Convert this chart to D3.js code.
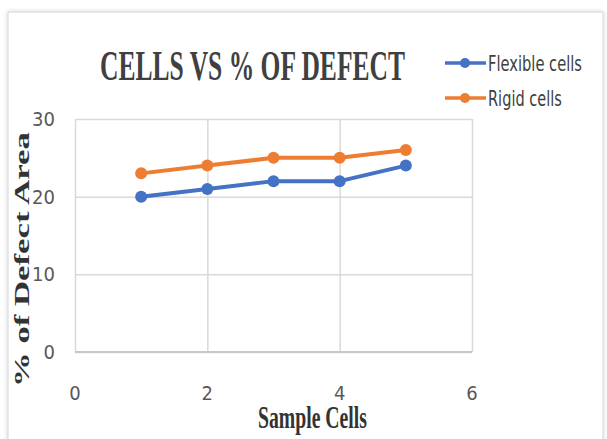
<!DOCTYPE html>
<html>
<head>
<meta charset="utf-8">
<script src="https://cdn.jsdelivr.net/npm/d3@7"></script>
<style>
  body { margin: 0; background: #fff; }
  .tick-label { font-family: 'Liberation Sans Narrow', 'DejaVu Sans Condensed', sans-serif; fill: #595959; }
</style>
</head>
<body>
<div id="chart"></div>
<script>
const samples = [1, 2, 3, 4, 5];
const flexibleCells = [20, 21, 22, 22, 24];
const rigidCells = [23, 24, 25, 25, 26];
const xTicks = [0, 2, 4, 6];
const yTicks = [0, 10, 20, 30];

const series = [
  { name: 'Flexible cells', values: flexibleCells, color: '#4472c4' },
  { name: 'Rigid cells', values: rigidCells, color: '#ed7d31' }
];

const W = 607, H = 439;
const margin = { top: 119, right: 135, bottom: 87, left: 75 };
const width = W - margin.left - margin.right;
const height = H - margin.top - margin.bottom;

const svg = d3.select('#chart').append('svg')
  .attr('width', W).attr('height', H);

const defs = svg.append('defs');
const shadow = defs.append('filter').attr('id', 'shadow')
  .attr('x', '-5%').attr('y', '-5%').attr('width', '110%').attr('height', '110%');
shadow.append('feDropShadow').attr('dx', 0).attr('dy', 0)
  .attr('stdDeviation', 2).attr('flood-color', '#000').attr('flood-opacity', 0.18);

// card
svg.append('rect')
  .attr('x', 8).attr('y', 12).attr('width', 595).attr('height', 460)
  .attr('fill', '#fff').attr('stroke', '#d6d6d6').attr('filter', 'url(#shadow)');

// squeeze a text horizontally so it spans targetWidth (condensed look)
function fitText(parent, str, tx, ty, targetWidth, rotate) {
  const g = parent.append('g');
  const t = g.append('text').text(str);
  return {
    g: g, t: t,
    done() {
      const natural = t.node().getComputedTextLength();
      const sx = targetWidth / natural;
      g.attr('transform', 'translate(' + tx + ',' + ty + ')' +
        (rotate ? ' rotate(' + rotate + ')' : '') + ' scale(' + sx + ',1)');
    }
  };
}

const x = d3.scaleLinear().domain([0, 6]).range([0, width]);
const y = d3.scaleLinear().domain([0, 30]).range([height, 0]);

const chart = svg.append('g')
  .attr('transform', 'translate(' + margin.left + ',' + margin.top + ')');

// gridlines
chart.append('g')
  .attr('class', 'y grid')
  .call(d3.axisLeft(y).tickValues(yTicks).tickSize(-width).tickFormat(''))
  .call(g => g.select('.domain').remove())
  .call(g => g.selectAll('line').attr('stroke', '#d9d9d9').attr('stroke-width', 1.5));
chart.append('g')
  .attr('class', 'x grid')
  .attr('transform', 'translate(0,' + height + ')')
  .call(d3.axisBottom(x).tickValues(xTicks).tickSize(-height).tickFormat(''))
  .call(g => g.select('.domain').remove())
  .call(g => g.selectAll('line').attr('stroke', '#d9d9d9').attr('stroke-width', 1.5));

// bottom axis line
chart.append('line')
  .attr('x1', 0).attr('x2', width)
  .attr('y1', y(0)).attr('y2', y(0))
  .attr('stroke', '#c8c8c8').attr('stroke-width', 2);

// tick labels
chart.append('g').selectAll('text')
  .data(yTicks).enter().append('text')
  .attr('class', 'tick-label')
  .attr('x', -20).attr('y', d => y(d) + 7)
  .attr('text-anchor', 'end')
  .attr('font-size', 20)
  .text(d => d);
chart.append('g').selectAll('text')
  .data(xTicks).enter().append('text')
  .attr('class', 'tick-label')
  .attr('x', d => x(d)).attr('y', height + 48)
  .attr('text-anchor', 'middle')
  .attr('font-size', 20)
  .text(d => d);

// lines
const line = d3.line()
  .x((d, i) => x(samples[i]))
  .y(d => y(d));

series.forEach(s => {
  chart.append('path')
    .datum(s.values)
    .attr('fill', 'none')
    .attr('stroke', s.color)
    .attr('stroke-width', 4)
    .attr('stroke-linejoin', 'round')
    .attr('d', line);
  chart.append('g').selectAll('circle')
    .data(s.values).enter().append('circle')
    .attr('cx', (d, i) => x(samples[i]))
    .attr('cy', d => y(d))
    .attr('r', 6)
    .attr('fill', s.color);
});

// title
const title = fitText(svg, 'CELLS VS % OF DEFECT', 100, 80, 305);
title.t
  .attr('font-family', 'Liberation Serif, serif')
  .attr('font-weight', 'bold')
  .attr('font-size', 42)
  .attr('fill', '#404040');
title.done();

// axis titles
const xTitle = fitText(svg, 'Sample Cells', 258, 428, 109);
xTitle.t
  .attr('font-family', 'Liberation Serif, serif')
  .attr('font-weight', 'bold')
  .attr('font-size', 31)
  .attr('fill', '#333');
xTitle.done();

const yTitle = fitText(svg, '% of Defect Area', 29, 387, 255, -90);
yTitle.t
  .attr('font-family', 'Liberation Serif, serif')
  .attr('font-weight', 'bold')
  .attr('font-size', 22)
  .attr('fill', '#333');
yTitle.done();

// legend
const legend = svg.append('g').attr('class', 'legend');
series.forEach((s, i) => {
  const ly = 63 + i * 35;
  legend.append('line')
    .attr('x1', 445).attr('x2', 486)
    .attr('y1', ly).attr('y2', ly)
    .attr('stroke', s.color).attr('stroke-width', 3.5);
  legend.append('circle')
    .attr('cx', 465).attr('cy', ly).attr('r', 5)
    .attr('fill', s.color);
  const lt = fitText(legend, s.name, 488, ly + 8, i === 0 ? 94 : 74);
  lt.t
    .attr('font-family', "'Liberation Sans Narrow', 'DejaVu Sans Condensed', sans-serif")
    .attr('font-size', 21)
    .attr('fill', '#404040');
  lt.done();
});
</script>
</body>
</html>
